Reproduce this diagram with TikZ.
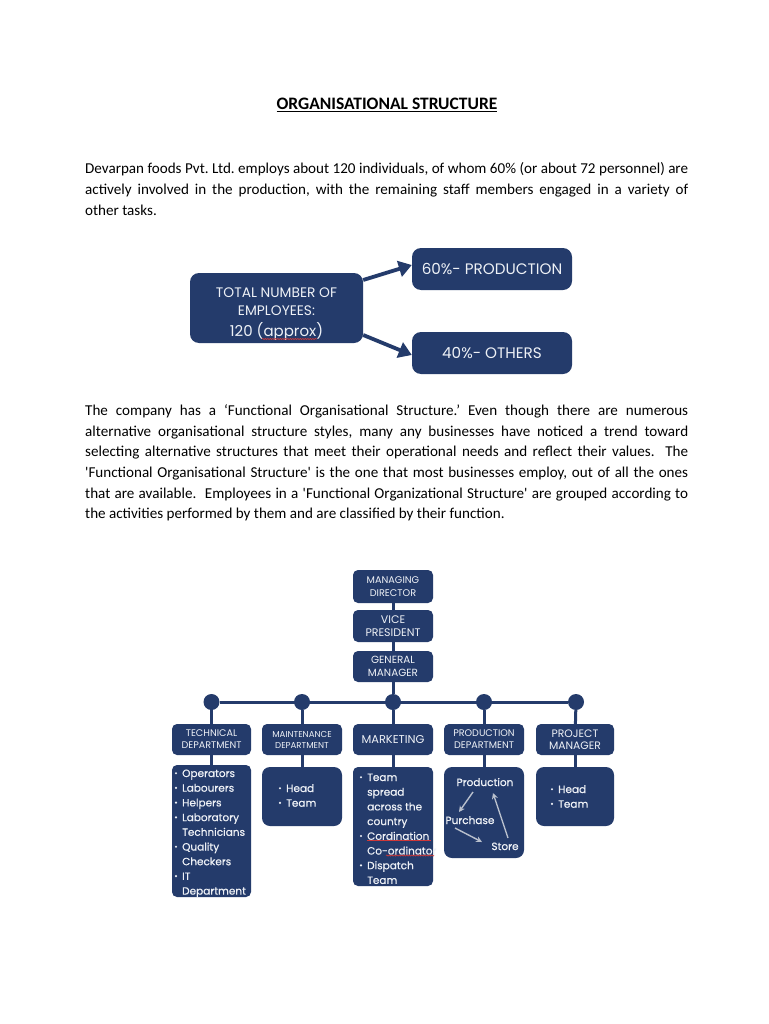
\documentclass[tikz,border=0pt]{standalone}
\usepackage{fontspec}
\setmainfont{Carlito}
\newfontfamily\dfont{Poppins}
\newfontfamily\dfontm[FakeBold=0.6]{Poppins}
\usetikzlibrary{arrows.meta,decorations.pathmorphing}
\definecolor{navy}{HTML}{243B6B}
\definecolor{boxtext}{HTML}{EEF1F6}
\definecolor{garrow}{HTML}{B9C0CD}
\definecolor{spellred}{HTML}{D03838}
\frenchspacing
\begin{document}
\begin{tikzpicture}[x=1pt,y=-1pt,
  para/.style={anchor=base west, inner sep=0pt, font=\fontsize{15.1}{17}\selectfont},
  box/.style={fill=navy, rounded corners=5pt, inner sep=0pt, text=boxtext, align=center, font=\dfont\fontsize{9.7}{13}\selectfont},
  bigbox/.style={box, rounded corners=9pt},
  wtxt/.style={inner sep=0pt, text=boxtext},
  bigarrow/.style={draw=navy, line width=3.8pt, -{Triangle[length=13pt,width=16pt]}},
  orgline/.style={draw=navy, line width=3pt},
  dot/.style={circle, fill=navy, minimum size=16pt, inner sep=0pt},
  ltxt/.style={anchor=base west, inner sep=0pt, text=boxtext, font=\dfontm\fontsize{10.5}{12}\selectfont},
  gline/.style={draw=garrow, line width=1.4pt, -{Stealth[length=6pt,width=6pt]}},
  spell/.style={draw=spellred, line width=0.6pt, decorate, decoration={snake, amplitude=0.6pt, segment length=2.5pt}}
]
\useasboundingbox[fill=white] (0,0) rectangle (768,1024);

% ---------- title and first paragraph ----------
\node[anchor=base, inner sep=0pt, font=\bfseries\fontsize{17.5}{20}\selectfont] (title) at (387,110) {\underline{ORGANISATIONAL STRUCTURE}};

\node[para] (pa1) at (85,174) {\makebox[603pt][s]{Devarpan foods Pvt. Ltd. employs about 120 individuals, of whom 60\% (or about 72 personnel) are}};
\node[para] (pa2) at (85,195) {\makebox[603pt][s]{actively involved in the production, with the remaining staff members engaged in a variety of}};
\node[para] (pa3) at (85,216) {other tasks.};

% ---------- employees diagram ----------
\node[bigbox, minimum width=173pt, minimum height=70pt] (tot) at (276.5,308) {};
\node[wtxt, anchor=base, font=\dfont\fontsize{13.8}{15}\selectfont] (tot1) at (276.5,297.5) {TOTAL NUMBER OF};
\node[wtxt, anchor=base, font=\dfont\fontsize{13.8}{15}\selectfont] (tot2) at (276.5,315) {EMPLOYEES:};
\node[wtxt, anchor=base, font=\dfont\fontsize{15}{17}\selectfont] (tot3) at (276.5,336) {120 (approx)};
\draw[spell] (262,339) -- (317,339);

\node[bigbox, minimum width=160pt, minimum height=42pt, font=\dfont\fontsize{15.2}{17}\selectfont] (p60) at (492,269) {60\%- PRODUCTION};
\node[bigbox, minimum width=160pt, minimum height=42pt, font=\dfont\fontsize{15.2}{17}\selectfont] (p40) at (492,353) {40\%- OTHERS};

\draw[bigarrow] ([yshift=28pt]tot.east) -- ([yshift=4pt]p60.west);
\draw[bigarrow] ([yshift=-27pt]tot.east) -- ([yshift=-2pt]p40.west);

% ---------- second paragraph ----------
\node[para] (pb1) at (85,415) {\makebox[603pt][s]{The company has a ‘Functional Organisational Structure.’ Even though there are numerous}};
\node[para] (pb2) at (85,436) {\makebox[603pt][s]{alternative organisational structure styles, many any businesses have noticed a trend toward}};
\node[para] (pb3) at (85,456) {\makebox[603pt][s]{selecting alternative structures that meet their operational needs and reflect their values.\ \ The}};
\node[para] (pb4) at (85,477) {\makebox[603pt][s]{\textquotesingle Functional Organisational Structure\textquotesingle{} is the one that most businesses employ, out of all the ones}};
\node[para] (pb5) at (85,498) {\makebox[603pt][s]{that are available.\ \ Employees in a \textquotesingle Functional Organizational Structure\textquotesingle{} are grouped according to}};
\node[para] (pb6) at (85,518) {the activities performed by them and are classified by their function.};

% ---------- organisation chart ----------
\node[box, minimum width=80pt, minimum height=33pt] (md) at (393,586.5) {MANAGING\\DIRECTOR};
\node[box, minimum width=80pt, minimum height=32pt, font=\dfont\fontsize{11}{13}\selectfont] (vp) at (393,626) {VICE\\PRESIDENT};
\node[box, minimum width=80pt, minimum height=31pt, font=\dfont\fontsize{10.4}{13}\selectfont] (gm) at (393,666.5) {GENERAL\\MANAGER};

\node[dot] (d1) at (211.5,702) {};
\node[dot] (d2) at (302,702) {};
\node[dot] (d3) at (393,702) {};
\node[dot] (d4) at (484,702) {};
\node[dot] (d5) at (576,702) {};

\node[box, minimum width=79pt, minimum height=31pt, font=\dfont\fontsize{9.6}{12}\selectfont] (tech) at (211.5,739.5) {TECHNICAL\\DEPARTMENT};
\node[box, minimum width=80pt, minimum height=31pt, font=\dfont\fontsize{8.6}{11}\selectfont] (main) at (302,739.5) {MAINTENANCE\\DEPARTMENT};
\node[box, minimum width=80pt, minimum height=31pt, font=\dfont\fontsize{11.4}{12}\selectfont] (mark) at (393,739.5) {MARKETING};
\node[box, minimum width=80pt, minimum height=31pt, font=\dfont\fontsize{9.6}{12}\selectfont] (prod) at (484,739.5) {PRODUCTION\\DEPARTMENT};
\node[box, minimum width=78pt, minimum height=31pt, font=\dfont\fontsize{10.8}{12.5}\selectfont] (proj) at (575,739.5) {PROJECT\\MANAGER};

\node[box, minimum width=79pt, minimum height=132pt] (techc) at (211.5,831) {};
\node[box, minimum width=80pt, minimum height=59pt, rounded corners=8pt] (mainc) at (302,796.5) {};
\node[box, minimum width=80pt, minimum height=119pt] (markc) at (393,826.5) {};
\node[box, minimum width=80pt, minimum height=91pt, rounded corners=8pt] (prodc) at (484,812.5) {};
\node[box, minimum width=78pt, minimum height=59pt, rounded corners=8pt] (projc) at (575,796.5) {};

\draw[orgline] (md) -- (vp);
\draw[orgline] (vp) -- (gm);
\draw[orgline] (gm) -- (d3);
\draw[orgline] (d1) -- (d5);
\draw[orgline] (d1) -- (tech);
\draw[orgline] (d2) -- (main);
\draw[orgline] (d3) -- (mark);
\draw[orgline] (d4) -- (prod);
\draw[orgline] (d5) -- (proj);
\draw[orgline] (tech) -- (techc);
\draw[orgline] (main) -- (mainc);
\draw[orgline] (mark) -- (markc);
\draw[orgline] (prod) -- (prodc);
\draw[orgline] (proj) -- (projc);

% technical list
\foreach \t [count=\i from 0] in {Operators,Labourers,Helpers,Laboratory,Technicians,Quality,Checkers,IT,Department}
  \node[ltxt] (tl\i) at (182,777+\i*14.7) {\t};
\foreach \i in {0,1,2,3,5,7}
  \fill[boxtext] (176,773.2+\i*14.7) circle (1.2pt);

% maintenance list
\node[ltxt] (ml0) at (286,792) {Head};
\node[ltxt] (ml1) at (286,806.7) {Team};
\fill[boxtext] (280,788.2) circle (1.2pt);
\fill[boxtext] (280,802.9) circle (1.2pt);

% marketing list
\foreach \t [count=\i from 0] in {Team,spread,across the,country,Cordination,Co-ordinator,Dispatch,Team}
  \node[ltxt] (kl\i) at (367,781+\i*14.7) {\t};
\foreach \i in {0,4,6}
  \fill[boxtext] (361,777.2+\i*14.7) circle (1.2pt);
\draw[draw=spellred, line width=0.6pt] (367,840.5) -- (431,840.5);
\draw[spell] (386,855.5) -- (434,855.5);

% production cycle
\node[wtxt, anchor=base, font=\dfontm\fontsize{10.5}{12}\selectfont] (pr1) at (485,786) {Production};
\node[wtxt, anchor=base, font=\dfontm\fontsize{10.5}{12}\selectfont] (pr2) at (470,824) {Purchase};
\node[wtxt, anchor=base, font=\dfontm\fontsize{10.5}{12}\selectfont] (pr3) at (505,850) {Store};
\coordinate (a1s) at (473,792); \coordinate (a1e) at (459,812);
\coordinate (a2s) at (455,828); \coordinate (a2e) at (482,842);
\coordinate (a3s) at (508,838); \coordinate (a3e) at (493,793);
\draw[gline] (a1s) -- (a1e);
\draw[gline] (a2s) -- (a2e);
\draw[gline] (a3s) -- (a3e);

% project list
\node[ltxt] (jl0) at (558,793) {Head};
\node[ltxt] (jl1) at (558,807.7) {Team};
\fill[boxtext] (552,789.2) circle (1.2pt);
\fill[boxtext] (552,803.9) circle (1.2pt);
\end{tikzpicture}
\end{document}
